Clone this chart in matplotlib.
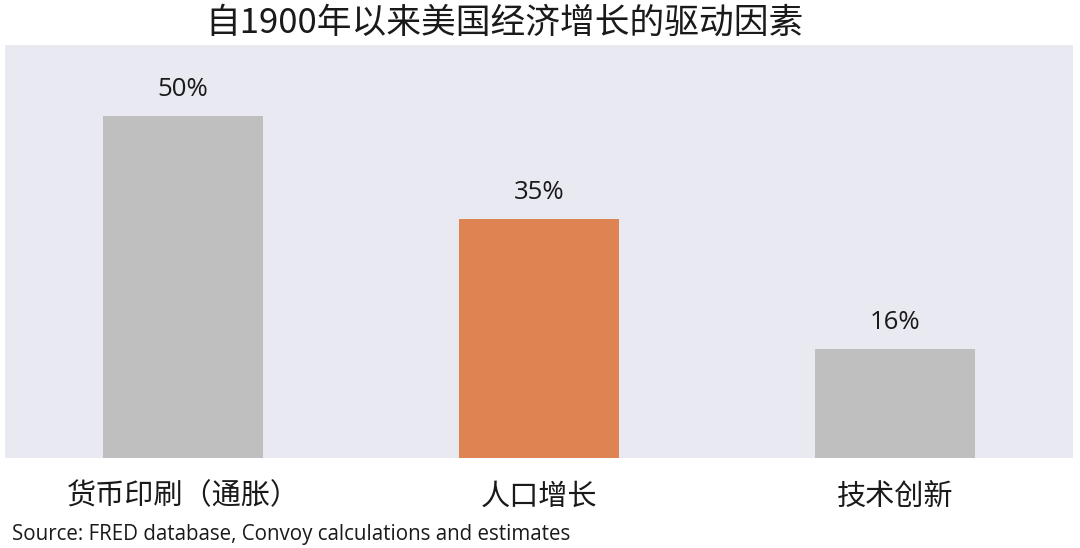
import matplotlib
matplotlib.use("Agg")
import matplotlib.pyplot as plt

# data
categories = ["货币印刷（通胀）", "人口增长", "技术创新"]
values = [50, 35, 16]
value_labels = ["50%", "35%", "16%"]
bar_colors = ["#BFBFBF", "#DE8352", "#BFBFBF"]

title = "自1900年以来美国经济增长的驱动因素"
source = "Source: FRED database, Convoy calculations and estimates"

plt.rcParams["font.family"] = ["Noto Sans CJK SC", "DejaVu Sans"]

fig = plt.figure(figsize=(10.8, 5.48), dpi=100)
ax = fig.add_axes([0.0046, 0.1642, 0.9889, 0.7538])
ax.set_facecolor("#E9E9F1")

x = list(range(len(categories)))
ax.bar(x, values, width=0.45, color=bar_colors)

# percentage labels above the bars
for xi, v, lab in zip(x, values, value_labels):
    ax.annotate(lab, (xi, v), xytext=(0, 10), textcoords="offset points",
                ha="center", va="bottom", fontsize=18.5, family="Open Sans",
                color="#1a1a1a")

ax.set_xlim(-0.5, 2.5)
ax.set_ylim(0, 60.4)
ax.set_xticks(x)
ax.set_xticklabels(categories, fontsize=21, color="#1a1a1a")
ax.tick_params(axis="x", length=0, pad=17)
ax.set_yticks([])
for s in ax.spines.values():
    s.set_visible(False)

fig.text(0.467, 0.958, title, ha="center", va="center", fontsize=25,
         color="#1a1a1a")
fig.text(0.011, 0.024, source, ha="left", va="center", fontsize=14.8,
         family="Open Sans", color="#1a1a1a")

fig.savefig("out.png", dpi=100, facecolor="white")
